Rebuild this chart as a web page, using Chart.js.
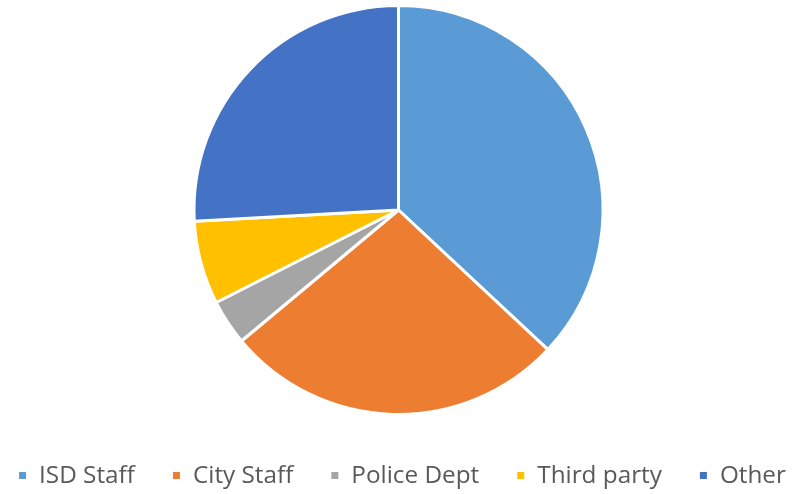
<!DOCTYPE html>
<html>
<head>
<meta charset="utf-8">
<script src="https://cdn.jsdelivr.net/npm/chart.js@4.4.1/dist/chart.umd.min.js"></script>
<style>
html,body{margin:0;padding:0;background:#fff;}
#wrap{width:797px;height:494px;}
</style>
</head>
<body>
<div id="wrap"><canvas id="c" width="797" height="494"></canvas></div>
<script>
const categories = ["ISD Staff", "City Staff", "Police Dept", "Third party", "Other"];
const values = [37.0, 27.0, 3.6, 6.6, 25.9];
const colors = ["#5B9BD5", "#ED7D31", "#A5A5A5", "#FFC000", "#4472C4"];

// Legend drawn on the canvas, spaced like the original (wider gaps than Chart.js allows on one row)
const bottomLegend = {
  id: 'bottomLegend',
  afterDraw(chart) {
    const ctx = chart.ctx;
    const labels = chart.data.labels;
    const bg = chart.data.datasets[0].backgroundColor;
    const box = 7, gapText = 13, gapItem = 38, yMid = 476;
    ctx.save();
    ctx.font = "24.3px 'Open Sans', 'Liberation Sans', sans-serif";
    ctx.textBaseline = 'middle';
    ctx.textAlign = 'left';
    const widths = labels.map(t => ctx.measureText(t).width);
    const total = widths.reduce((a, w) => a + box + gapText + w, 0) + gapItem * (labels.length - 1);
    let x = 402.5 - total / 2;
    labels.forEach((t, i) => {
      ctx.fillStyle = bg[i];
      ctx.fillRect(x, yMid - box / 2 - 0.5, box, box);
      ctx.fillStyle = '#595959';
      ctx.fillText(t, x + box + gapText, yMid);
      x += box + gapText + widths[i] + gapItem;
    });
    ctx.restore();
  }
};

new Chart(document.getElementById('c'), {
  type: 'pie',
  data: {
    labels: categories,
    datasets: [{
      data: values,
      backgroundColor: colors,
      borderColor: '#ffffff',
      borderWidth: 3,
      hoverOffset: 0
    }]
  },
  options: {
    responsive: false,
    animation: false,
    layout: { padding: { top: 4, bottom: 78, left: 0, right: 0 } },
    plugins: {
      tooltip: { enabled: false },
      legend: { display: false }
    }
  },
  plugins: [bottomLegend]
});
</script>
</body>
</html>
